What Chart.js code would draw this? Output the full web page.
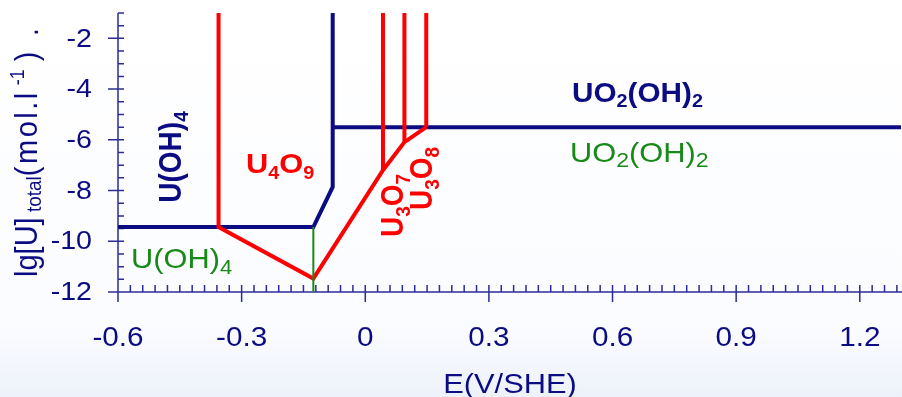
<!DOCTYPE html>
<html>
<head>
<meta charset="utf-8">
<script src="https://cdn.jsdelivr.net/npm/chart.js@4/dist/chart.umd.min.js"></script>
<style>
  html, body { margin: 0; padding: 0; background: #ffffff; }
  canvas { display: block; }
</style>
</head>
<body>
<canvas id="diagram" width="902" height="397"></canvas>
<script>
// Axis ticks and their labels
const xTicks = [-0.6, -0.3, 0, 0.3, 0.6, 0.9, 1.2];
const xTickLabels = ['-0.6', '-0.3', '0', '0.3', '0.6', '0.9', '1.2'];
const yTicks = [-2, -4, -6, -8, -10, -12];
const yTickLabels = ['-2', '-4', '-6', '-8', '-10', '-12'];

// Solubility boundary of U(OH)4 / UO2(OH)2 (E in V/SHE, lg[U]total)
const aqueousBoundaryE  = [-0.6, -0.126, -0.079, -0.079];
const aqueousBoundaryLg = [-9.44, -9.44, -7.86, -1.0];
const uo2BoundaryE  = [-0.079, 1.3];
const uo2BoundaryLg = [-5.50, -5.50];

// Oxide boundary: U4O9 vertical, then the lower envelope through U3O7 / U3O8
const oxideE  = [-0.356, -0.356, -0.126, 0.043, 0.095, 0.148];
const oxideLg = [-1.0, -9.44, -11.47, -7.20, -6.09, -5.50];
const u3o7E  = [0.043, 0.043];
const u3o7Lg = [-1.0, -7.20];
const u3o8aE  = [0.095, 0.095];
const u3o8aLg = [-1.0, -6.09];
const u3o8bE  = [0.148, 0.148];
const u3o8bLg = [-1.0, -5.50];

// Aqueous species divider
const aqueousDividerE  = [-0.126, -0.126];
const aqueousDividerLg = [-9.44, -12.0];

const NAVY = '#0b0b82';
const RED = '#ff0000';
const GREEN = '#178a17';
const AXIS = '#2c2c98';
const FONT = '"Liberation Sans", Arial, sans-serif';
const SX = 1.1; // horizontal stretch of all lettering

function pts(xs, ys) { return xs.map((x, i) => ({ x: x, y: ys[i] })); }
function line(xs, ys, color, width) {
  return { data: pts(xs, ys), borderColor: color, borderWidth: width, showLine: true,
           pointRadius: 0, fill: false, tension: 0, clip: false,
           borderJoinStyle: 'miter', borderCapStyle: 'butt' };
}

function fontOf(p) { return (p.b ? 'bold ' : '') + p.s + 'px ' + FONT; }

// Draws a run of text pieces (subscripts/superscripts via dy, optional spacing ls)
function rich(ctx, x, y, parts, o) {
  ctx.save();
  ctx.translate(x, y);
  ctx.scale(o.sx || SX, 1);
  if (o.angle) ctx.rotate(o.angle);
  ctx.fillStyle = o.color;
  ctx.textBaseline = 'alphabetic';
  ctx.textAlign = 'left';
  let w = 0;
  parts.forEach(p => {
    ctx.font = fontOf(p);
    const ls = p.ls || 0;
    p.w = ctx.measureText(p.t).width + (ls ? 0 : 0);
    if (ls) {
      p.w = 0;
      for (const ch of p.t) p.w += ctx.measureText(ch).width + ls;
    }
    w += p.w;
  });
  let cx = o.align === 'center' ? -w / 2 : 0;
  parts.forEach(p => {
    ctx.font = fontOf(p);
    if (p.ls) {
      let c = cx;
      for (const ch of p.t) { ctx.fillText(ch, c, p.dy || 0); c += ctx.measureText(ch).width + p.ls; }
    } else {
      ctx.fillText(p.t, cx, p.dy || 0);
    }
    cx += p.w;
  });
  ctx.restore();
}

const decor = {
  id: 'decor',
  beforeDraw(chart) {
    const ctx = chart.ctx;
    const g = ctx.createLinearGradient(0, 0, 0, chart.height);
    g.addColorStop(0, '#ffffff');
    g.addColorStop(0.82, '#fbfcff');
    g.addColorStop(1, '#edf2fa');
    ctx.save();
    ctx.fillStyle = g;
    ctx.fillRect(0, 0, chart.width, chart.height);
    ctx.restore();
  },
  beforeDatasetsDraw(chart) {
    const ctx = chart.ctx;
    const xs = chart.scales.x, ys = chart.scales.y;
    const x0 = xs.getPixelForValue(xs.min), x1 = xs.getPixelForValue(xs.max);
    const yb = ys.getPixelForValue(ys.min), yt = ys.getPixelForValue(ys.max);
    ctx.save();
    ctx.strokeStyle = AXIS;
    ctx.lineWidth = 1.5;
    ctx.beginPath();
    ctx.moveTo(x0, yt); ctx.lineTo(x0, yb); ctx.lineTo(x1 + 2, yb);
    // x minor ticks every 0.03, majors every 0.3
    for (let i = 0; i <= 63; i++) {
      const px = xs.getPixelForValue(-0.6 + i * 0.03);
      const major = i % 10 === 0;
      ctx.moveTo(px, yb - 7); ctx.lineTo(px, major ? yb + 10 : yb);
    }
    // y minor ticks every 0.5, majors every 2
    for (let i = 0; i <= 22; i++) {
      const py = ys.getPixelForValue(-12 + i * 0.5);
      const major = i % 4 === 0;
      ctx.moveTo(major ? x0 - 10 : x0, py); ctx.lineTo(x0 + 6, py);
    }
    ctx.stroke();

    ctx.fillStyle = NAVY;
    ctx.font = '27px ' + FONT;
    xTicks.forEach((v, i) => {
      ctx.save();
      ctx.translate(xs.getPixelForValue(v), 346);
      ctx.scale(SX, 1);
      ctx.textAlign = 'center'; ctx.textBaseline = 'alphabetic';
      ctx.fillText(xTickLabels[i], 0, 0);
      ctx.restore();
    });
    ctx.font = '26px ' + FONT;
    yTicks.forEach((v, i) => {
      ctx.save();
      ctx.translate(92, ys.getPixelForValue(v));
      ctx.scale(SX, 1);
      ctx.textAlign = 'right'; ctx.textBaseline = 'middle';
      ctx.fillText(yTickLabels[i], 0, 1);
      ctx.restore();
    });
    ctx.restore();

    // axis titles
    rich(ctx, 510, 393, [{ t: 'E(V/SHE)', s: 28 }], { color: NAVY, align: 'center' });
    rich(ctx, 37, 277, [
      { t: 'lg[U]', s: 29 },
      { t: ' total', s: 19, dy: 4 },
      { t: '(mol.l', s: 29, ls: 2.5 },
      { t: ' -1', s: 18, dy: -12 },
      { t: ' )', s: 29 }
    ], { color: NAVY, angle: -Math.PI / 2 });
    rich(ctx, 38, 36, [{ t: '.', s: 28 }], { color: NAVY, angle: -Math.PI / 2 });
  },
  afterDatasetsDraw(chart) {
    const ctx = chart.ctx;
    const R = -Math.PI / 2;
    rich(ctx, 181, 157, [{ t: 'U(OH)', s: 28, b: 1 }, { t: '4', s: 19, b: 1, dy: 6 }],
         { color: NAVY, angle: R, align: 'center' });
    rich(ctx, 246, 173, [{ t: 'U', s: 28, b: 1 }, { t: '4', s: 18, b: 1, dy: 6 },
                         { t: 'O', s: 28, b: 1 }, { t: '9', s: 18, b: 1, dy: 6 }],
         { color: RED });
    rich(ctx, 403, 237, [{ t: 'U', s: 28, b: 1 }, { t: '3', s: 19, b: 1, dy: 6 },
                         { t: 'O', s: 28, b: 1 }, { t: '7', s: 19, b: 1, dy: 6 }],
         { color: RED, angle: R });
    rich(ctx, 432, 210, [{ t: 'U', s: 28, b: 1 }, { t: '3', s: 19, b: 1, dy: 6 },
                         { t: 'O', s: 28, b: 1 }, { t: '8', s: 19, b: 1, dy: 6 }],
         { color: RED, angle: R });
    rich(ctx, 572, 102, [{ t: 'UO', s: 27, b: 1 }, { t: '2', s: 18, b: 1, dy: 5 },
                         { t: '(OH)', s: 27, b: 1 }, { t: '2', s: 18, b: 1, dy: 5 }],
         { color: NAVY });
    rich(ctx, 570, 162, [{ t: 'UO', s: 28 }, { t: '2', s: 21, dy: 5 },
                         { t: '(OH)', s: 28 }, { t: '2', s: 21, dy: 5 }],
         { color: GREEN });
    rich(ctx, 131, 268, [{ t: 'U(OH)', s: 28 }, { t: '4', s: 20, dy: 6 }],
         { color: GREEN });
  }
};

new Chart(document.getElementById('diagram'), {
  type: 'scatter',
  data: {
    datasets: [
      line(aqueousDividerE, aqueousDividerLg, GREEN, 2),
      line(oxideE, oxideLg, RED, 4),
      line(u3o7E, u3o7Lg, RED, 4),
      line(u3o8aE, u3o8aLg, RED, 4),
      line(u3o8bE, u3o8bLg, RED, 4),
      line(aqueousBoundaryE, aqueousBoundaryLg, NAVY, 4),
      line(uo2BoundaryE, uo2BoundaryLg, NAVY, 4)
    ]
  },
  options: {
    responsive: false,
    animation: false,
    devicePixelRatio: 1,
    layout: { padding: { left: 118, top: 13, right: 1, bottom: 105 } },
    plugins: { legend: { display: false }, tooltip: { enabled: false } },
    scales: {
      x: { type: 'linear', min: -0.6, max: 1.3, display: false },
      y: { type: 'linear', min: -12, max: -1, display: false }
    }
  },
  plugins: [decor]
});
</script>
</body>
</html>
